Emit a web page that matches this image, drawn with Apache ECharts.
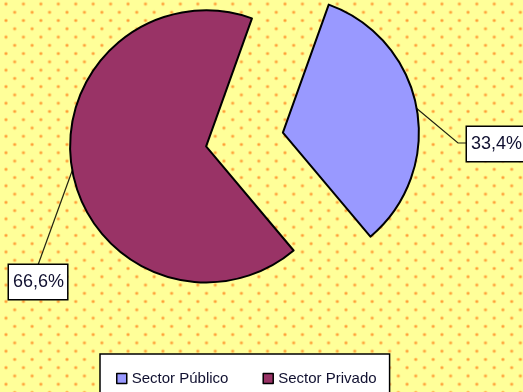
<!DOCTYPE html>
<html>
<head>
<meta charset="utf-8">
<script src="https://cdn.jsdelivr.net/npm/echarts@6/dist/echarts.min.js"></script>
<style>
  html, body { margin: 0; padding: 0; }
  #chart {
    width: 523px;
    height: 392px;
    background-color: #ffff99;
    /* staggered orange dot fill behind the plot */
    background-image:
      radial-gradient(circle, rgba(255,128,20,0.95) 0px, rgba(255,150,50,0.55) 1.3px, rgba(255,200,100,0) 2.2px),
      radial-gradient(circle, rgba(255,128,20,0.95) 0px, rgba(255,150,50,0.55) 1.3px, rgba(255,200,100,0) 2.2px);
    background-size: 17.45px 16.54px, 17.45px 16.54px;
    background-position: -2.72px -4.27px, 5.98px 4.03px;
  }
</style>
</head>
<body>
<div id="chart"></div>
<script>
// Share of employment by sector (%)
const categories = ['Sector Público', 'Sector Privado'];
const shares = [33.4, 66.6];

const palette = ['#9999ff', '#993366'];

const fmt = v => v.toFixed(1).replace('.', ',') + '%';

// Pie geometry: both slices pulled apart along their mid-angles
const pieCenter = [244.5, 139.5];
const pieRadius = 136;
const startAngle = 70.3;
const explode = 39;

// Label boxes sit at the chart sides; leader lines bend toward them
const labelPlacement = [
  { x: 467, y: 127, bend: [458, 143], end: [467, 143] },
  { x: 9, y: 265, bend: [38, 265], end: [38, 265] }
];

const total = shares.reduce((a, b) => a + b, 0);

// Centre of each exploded slice, offset along its mid-angle
function sliceCenter(i) {
  let before = 0;
  for (let k = 0; k < i; k++) before += shares[k];
  const midDeg = startAngle - (before + shares[i] / 2) / total * 360;
  const a = midDeg * Math.PI / 180;
  return [pieCenter[0] + explode * Math.cos(a), pieCenter[1] - explode * Math.sin(a)];
}

const labelFont = {
  fontFamily: 'Liberation Sans, Arial, sans-serif',
  fontSize: 18,
  lineHeight: 20,
  color: '#101030',
  backgroundColor: '#ffffff',
  borderColor: '#000000',
  borderWidth: 1.5,
  padding: [7, 3, 7, 4]
};

// One pie series per slice; the other slices are left invisible so the
// angles stay shared while each slice gets its own centre.
const series = categories.map((name, i) => ({
  type: 'pie',
  center: sliceCenter(i),
  radius: pieRadius,
  startAngle: startAngle,
  clockwise: true,
  avoidLabelOverlap: false,
  silent: true,
  emphasis: { disabled: true },
  label: Object.assign({ show: true, position: 'outside', formatter: p => fmt(p.value) }, labelFont),
  labelLine: { show: true, length: 20, length2: 10, lineStyle: { color: '#222211', width: 1.2 } },
  labelLayout: function (params) {
    if (params.dataIndex !== i) return {};
    const pl = labelPlacement[i];
    const start = params.labelLinePoints ? params.labelLinePoints[0] : pl.bend;
    return {
      x: pl.x,
      y: pl.y,
      align: 'left',
      verticalAlign: 'top',
      labelLinePoints: [start, pl.bend, pl.end]
    };
  },
  data: categories.map((n, k) => k === i
    ? { name: n, value: shares[k], itemStyle: { color: palette[k], borderColor: '#000000', borderWidth: 2 } }
    : { name: '', value: shares[k], itemStyle: { color: 'rgba(0,0,0,0)', borderWidth: 0 },
        label: { show: false }, labelLine: { show: false } })
}));

const chart = echarts.init(document.getElementById('chart'), null, { renderer: 'canvas' });

chart.setOption({
  backgroundColor: 'transparent',
  animation: false,
  legend: {
    data: categories,
    left: 100,
    top: 354,
    orient: 'horizontal',
    icon: 'rect',
    itemWidth: 10,
    itemHeight: 10,
    itemGap: 34,
    padding: [17, 13, 20, 16],
    backgroundColor: '#ffffff',
    borderColor: '#000000',
    borderWidth: 1.5,
    borderRadius: 0,
    selectedMode: false,
    itemStyle: { borderColor: '#000000', borderWidth: 1.5 },
    textStyle: {
      fontFamily: 'Liberation Sans, Arial, sans-serif',
      fontSize: 15,
      color: '#101030'
    }
  },
  series: series
});
</script>
</body>
</html>
